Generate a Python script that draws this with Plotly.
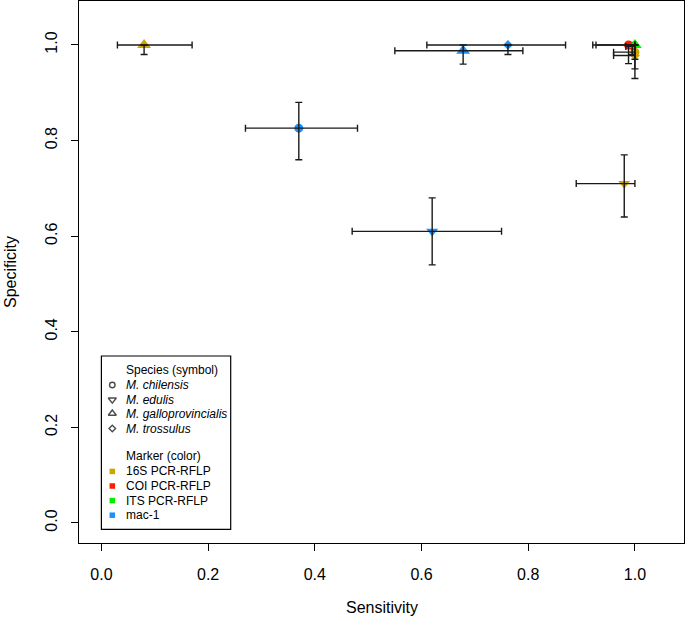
import plotly.graph_objects as go

# ---------------- data ----------------
method = ["16S PCR-RFLP", "16S PCR-RFLP", "16S PCR-RFLP", "16S PCR-RFLP",
          "COI PCR-RFLP", "COI PCR-RFLP", "ITS PCR-RFLP",
          "mac-1", "mac-1", "mac-1", "mac-1"]
species = ["M. galloprovincialis", "M. edulis", "M. chilensis", "M. trossulus",
           "M. chilensis", "M. trossulus", "M. galloprovincialis",
           "M. chilensis", "M. edulis", "M. galloprovincialis", "M. trossulus"]
sens = [0.08, 0.98, 1.00, 1.00, 0.988, 0.995, 1.00, 0.37, 0.62, 0.678, 0.762]
sens_lo = [0.03, 0.89, 0.96, 0.96, 0.927, 0.983, 0.921, 0.27, 0.47, 0.55, 0.61]
sens_hi = [0.17, 1.00, 1.00, 1.00, 1.00, 1.00, 1.00, 0.48, 0.75, 0.79, 0.87]
spec = [1.00, 0.71, 0.985, 0.978, 1.00, 0.997, 1.00, 0.826, 0.61, 0.988, 1.00]
spec_lo = [0.98, 0.64, 0.95, 0.93, 0.961, 0.98, 0.97, 0.76, 0.54, 0.96, 0.98]
spec_hi = [1.00, 0.77, 1.00, 1.00, 1.00, 1.00, 1.00, 0.88, 0.68, 1.00, 1.00]

species_levels = ["M. chilensis", "M. edulis", "M. galloprovincialis", "M. trossulus"]
method_levels = ["16S PCR-RFLP", "COI PCR-RFLP", "ITS PCR-RFLP", "mac-1"]
tick_vals = [0.0, 0.2, 0.4, 0.6, 0.8, 1.0]
tick_text = ["0.0", "0.2", "0.4", "0.6", "0.8", "1.0"]

# ---------------- styles ----------------
sym_filled = {"M. chilensis": "circle", "M. edulis": "triangle-down",
              "M. galloprovincialis": "triangle-up", "M. trossulus": "diamond"}
sym_size = {"M. chilensis": 9, "M. edulis": 10.5, "M. galloprovincialis": 12, "M. trossulus": 7.5}
sym_open = {"M. chilensis": "circle-open", "M. edulis": "triangle-down-open",
            "M. galloprovincialis": "triangle-up-open", "M. trossulus": "diamond-open"}
sym_open_size = {"M. chilensis": 5.5, "M. edulis": 7, "M. galloprovincialis": 7, "M. trossulus": 5}
col = {"16S PCR-RFLP": "#CDA500", "COI PCR-RFLP": "#FF1A00",
       "ITS PCR-RFLP": "#00EE00", "mac-1": "#1E8FFF"}

W, H = 685, 618
ML, MR, MT, MB = 79, 1, 1, 75
XR = [-0.042, 1.092]
YR = [-0.042, 1.092]
FONT = "Liberation Sans, Arial, Helvetica, sans-serif"


def px2x(px):
    return XR[0] + (px - ML) / (W - ML - MR) * (XR[1] - XR[0])


def py2y(py):
    return YR[1] - (py - MT) / (H - MT - MB) * (YR[1] - YR[0])


def px2paper(px):
    return (px - ML) / (W - ML - MR)


def py2paper(py):
    return 1 - (py - MT) / (H - MT - MB)


fig = go.Figure()

# markers
for i in range(len(sens)):
    fig.add_trace(go.Scatter(
        x=[sens[i]], y=[spec[i]], mode="markers",
        marker=dict(symbol=sym_filled[species[i]], size=sym_size[species[i]],
                    color=col[method[i]], line=dict(width=0)),
        showlegend=False, hoverinfo="skip"))

# error bars on top
fig.add_trace(go.Scatter(
    x=sens, y=spec, mode="markers",
    marker=dict(size=1, color="rgba(0,0,0,0)"),
    error_x=dict(type="data", symmetric=False,
                 array=[h - v for h, v in zip(sens_hi, sens)],
                 arrayminus=[v - l for v, l in zip(sens, sens_lo)],
                 color="#1a1a1a", thickness=1.4, width=3.5),
    error_y=dict(type="data", symmetric=False,
                 array=[h - v for h, v in zip(spec_hi, spec)],
                 arrayminus=[v - l for v, l in zip(spec, spec_lo)],
                 color="#1a1a1a", thickness=1.4, width=3.5),
    showlegend=False, hoverinfo="skip"))

# ---------------- legend (drawn manually) ----------------
leg_sym_px = 112.3
leg_txt_px = 123.6
sp_rows = [385, 399.7, 413.5, 428.5]
mk_rows = [471.4, 486, 500.6, 515.2]

fig.add_shape(type="rect", xref="paper", yref="paper",
              x0=px2paper(101.4), x1=px2paper(230.7),
              y0=py2paper(529.4), y1=py2paper(356),
              line=dict(color="black", width=1.2), fillcolor="rgba(0,0,0,0)", layer="above")

fig.add_trace(go.Scatter(
    x=[px2x(leg_sym_px)] * 4, y=[py2y(r) for r in sp_rows], mode="markers",
    marker=dict(symbol=[sym_open[s] for s in species_levels],
                size=[sym_open_size[s] for s in species_levels],
                color="black", line=dict(width=1.4)),
    showlegend=False, hoverinfo="skip"))
fig.add_trace(go.Scatter(
    x=[px2x(leg_sym_px)] * 4, y=[py2y(r) for r in mk_rows], mode="markers",
    marker=dict(symbol="square", size=5.5, color=[col[m] for m in method_levels],
                line=dict(width=0)),
    showlegend=False, hoverinfo="skip"))

annots = []
annots.append(dict(x=px2paper(leg_txt_px), y=py2paper(369.7), xref="paper", yref="paper",
                   text="Species (symbol)", showarrow=False, xanchor="left", yanchor="middle",
                   font=dict(size=12, color="black", family=FONT)))
for s, r in zip(species_levels, sp_rows):
    annots.append(dict(x=px2paper(leg_txt_px), y=py2paper(r), xref="paper", yref="paper",
                       text="<i>" + s + "</i>", showarrow=False, xanchor="left", yanchor="middle",
                       font=dict(size=12, color="black", family=FONT)))
annots.append(dict(x=px2paper(leg_txt_px), y=py2paper(456.4), xref="paper", yref="paper",
                   text="Marker (color)", showarrow=False, xanchor="left", yanchor="middle",
                   font=dict(size=12, color="black", family=FONT)))
for m, r in zip(method_levels, mk_rows):
    annots.append(dict(x=px2paper(leg_txt_px), y=py2paper(r), xref="paper", yref="paper",
                       text=m, showarrow=False, xanchor="left", yanchor="middle",
                       font=dict(size=12, color="black", family=FONT)))

# axis titles
annots.append(dict(x=0.5, y=py2paper(607.5), xref="paper", yref="paper", text="Sensitivity",
                   showarrow=False, xanchor="center", yanchor="middle",
                   font=dict(size=16, color="black", family=FONT)))
annots.append(dict(x=px2paper(10), y=0.5, xref="paper", yref="paper", text="Specificity",
                   showarrow=False, xanchor="center", yanchor="middle", textangle=-90,
                   font=dict(size=16, color="black", family=FONT)))

fig.update_layout(
    width=W, height=H, autosize=False,
    margin=dict(l=ML, r=MR, t=MT, b=MB, pad=0),
    paper_bgcolor="white", plot_bgcolor="white",
    font=dict(family=FONT, size=16, color="black"),
    annotations=annots,
    xaxis=dict(range=XR, tickmode="array", tickvals=tick_vals, ticktext=tick_text,
               ticks="outside", ticklen=7, tickwidth=1, tickcolor="black",
               showline=True, mirror=True, linecolor="black", linewidth=1,
               showgrid=False, zeroline=False, ticklabelstandoff=10,
               tickfont=dict(size=16, color="black", family=FONT)),
    yaxis=dict(range=YR, tickmode="array", tickvals=tick_vals, ticktext=tick_text,
               ticks="outside", ticklen=7, tickwidth=1, tickcolor="black",
               showline=True, mirror=True, linecolor="black", linewidth=1,
               showgrid=False, zeroline=False, tickangle=-90, ticklabelstandoff=8,
               tickfont=dict(size=16, color="black", family=FONT)),
)

fig.write_html("out.html", config={"displayModeBar": False},
               post_script="document.body.style.margin='0';document.body.style.padding='0';"
                           "document.documentElement.style.overflow='hidden';")
